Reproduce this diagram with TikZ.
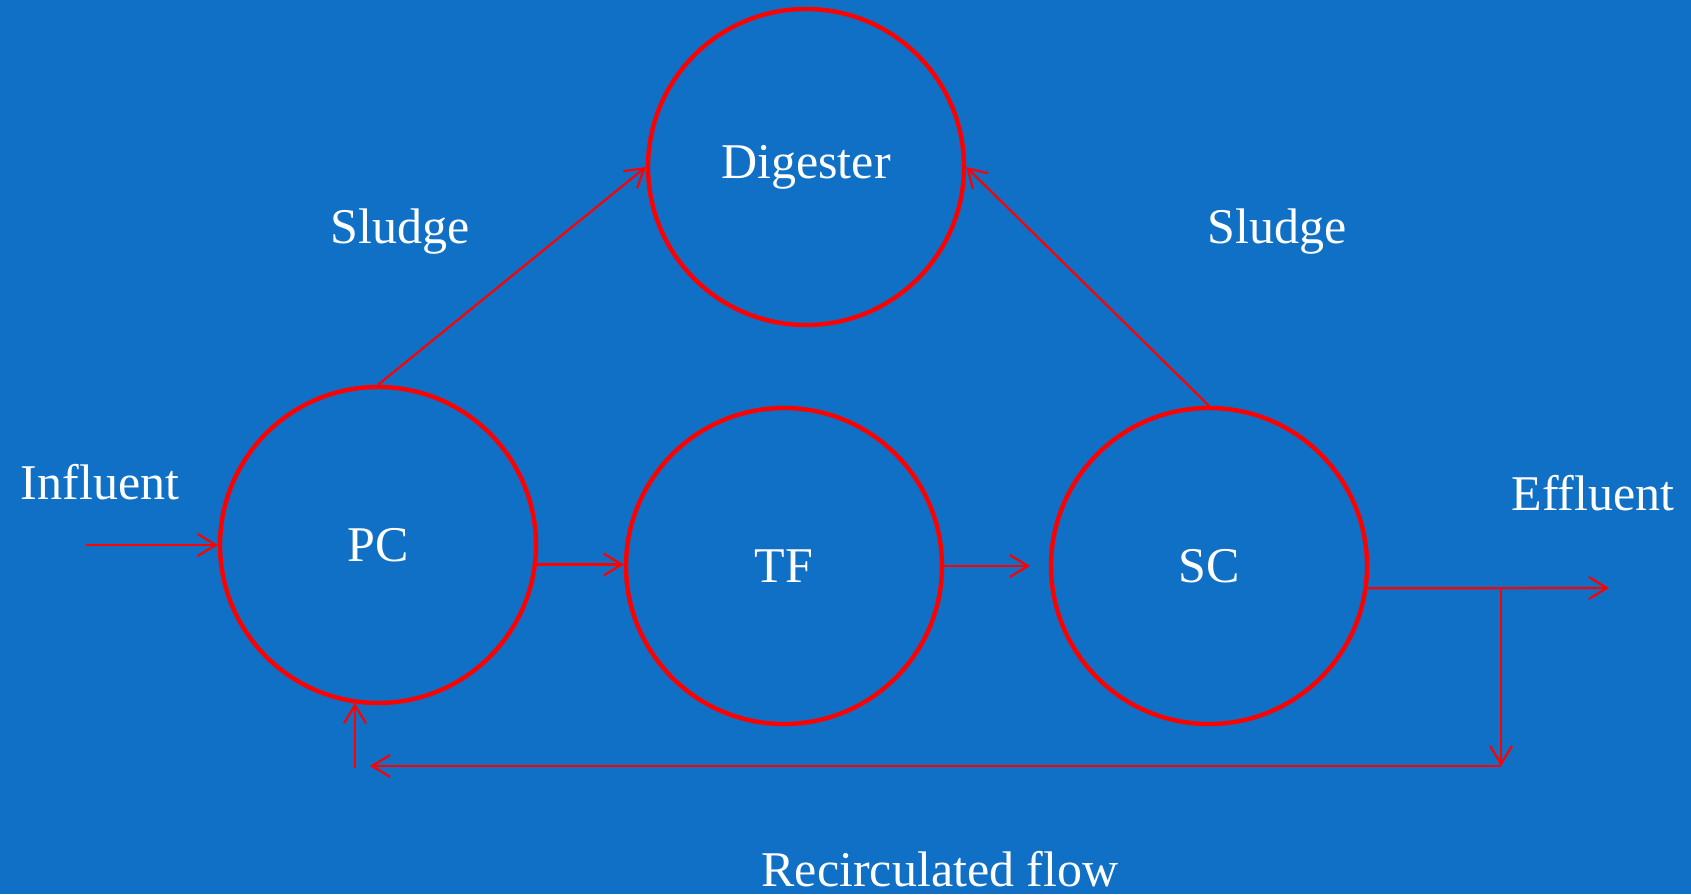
\documentclass[tikz,border=0pt]{standalone}
\usepackage{fontspec}
\setmainfont{Liberation Serif}
\usetikzlibrary{arrows.meta}
\definecolor{bg}{RGB}{16,112,197}
\definecolor{ln}{RGB}{255,0,0}
\begin{document}
\begin{tikzpicture}[x=0.5pt,y=-0.5pt,
  unit/.style={circle,draw=ln,line width=2.2pt,minimum size=158pt,inner sep=0pt,text=white,font=\fontsize{25}{30}\selectfont},
  lab/.style={text=white,font=\fontsize{25}{30}\selectfont,anchor=base,inner sep=0pt},
  flow/.style={draw=ln,line width=1.1pt,-{Straight Barb[length=9pt,width=11pt,line width=1.1pt]}}]
\fill[bg] (0,0) rectangle (1691,894);
\useasboundingbox (0,0) rectangle (1691,894);
\node[unit] (dig) at (806,167) {Digester};
\node[unit] (pc) at (378,545) {PC};
\node[unit] (tf) at (784,566) {TF};
\node[unit] (sc) at (1209,566) {SC};
\node[lab] (sl1) at (400,243) {Sludge};
\node[lab] (sl2) at (1277,243) {Sludge};
\node[lab] (inf) at (100,499) {Influent};
\node[lab] (eff) at (1593,510) {Effluent};
\node[lab] (rec) at (940,886) {Recirculated flow};
\coordinate (in) at (86,545);
\coordinate (tfsc) at (1030,566);
\coordinate (out) at (1609,588);
\coordinate (br) at (1501,588);
\coordinate (brd) at (1501,766);
\coordinate (rl) at (370,766);
\coordinate (up) at (355,768);
\draw[flow] (in) -- (pc.west);
\draw[flow] (pc.-7) -- (pc.-7 -| tf.west);
\draw[flow] (tf.east) -- (tfsc);
\draw[flow] (sc.-8) -- (out);
\draw[flow] (br) -- (brd);
\draw[flow] (brd) -- (rl);
\draw[flow] (up) -- (up |- pc.261.4);
\draw[flow] (pc.north) -- (dig.west);
\draw[flow] (sc.north) -- (dig.east);
\end{tikzpicture}
\end{document}
